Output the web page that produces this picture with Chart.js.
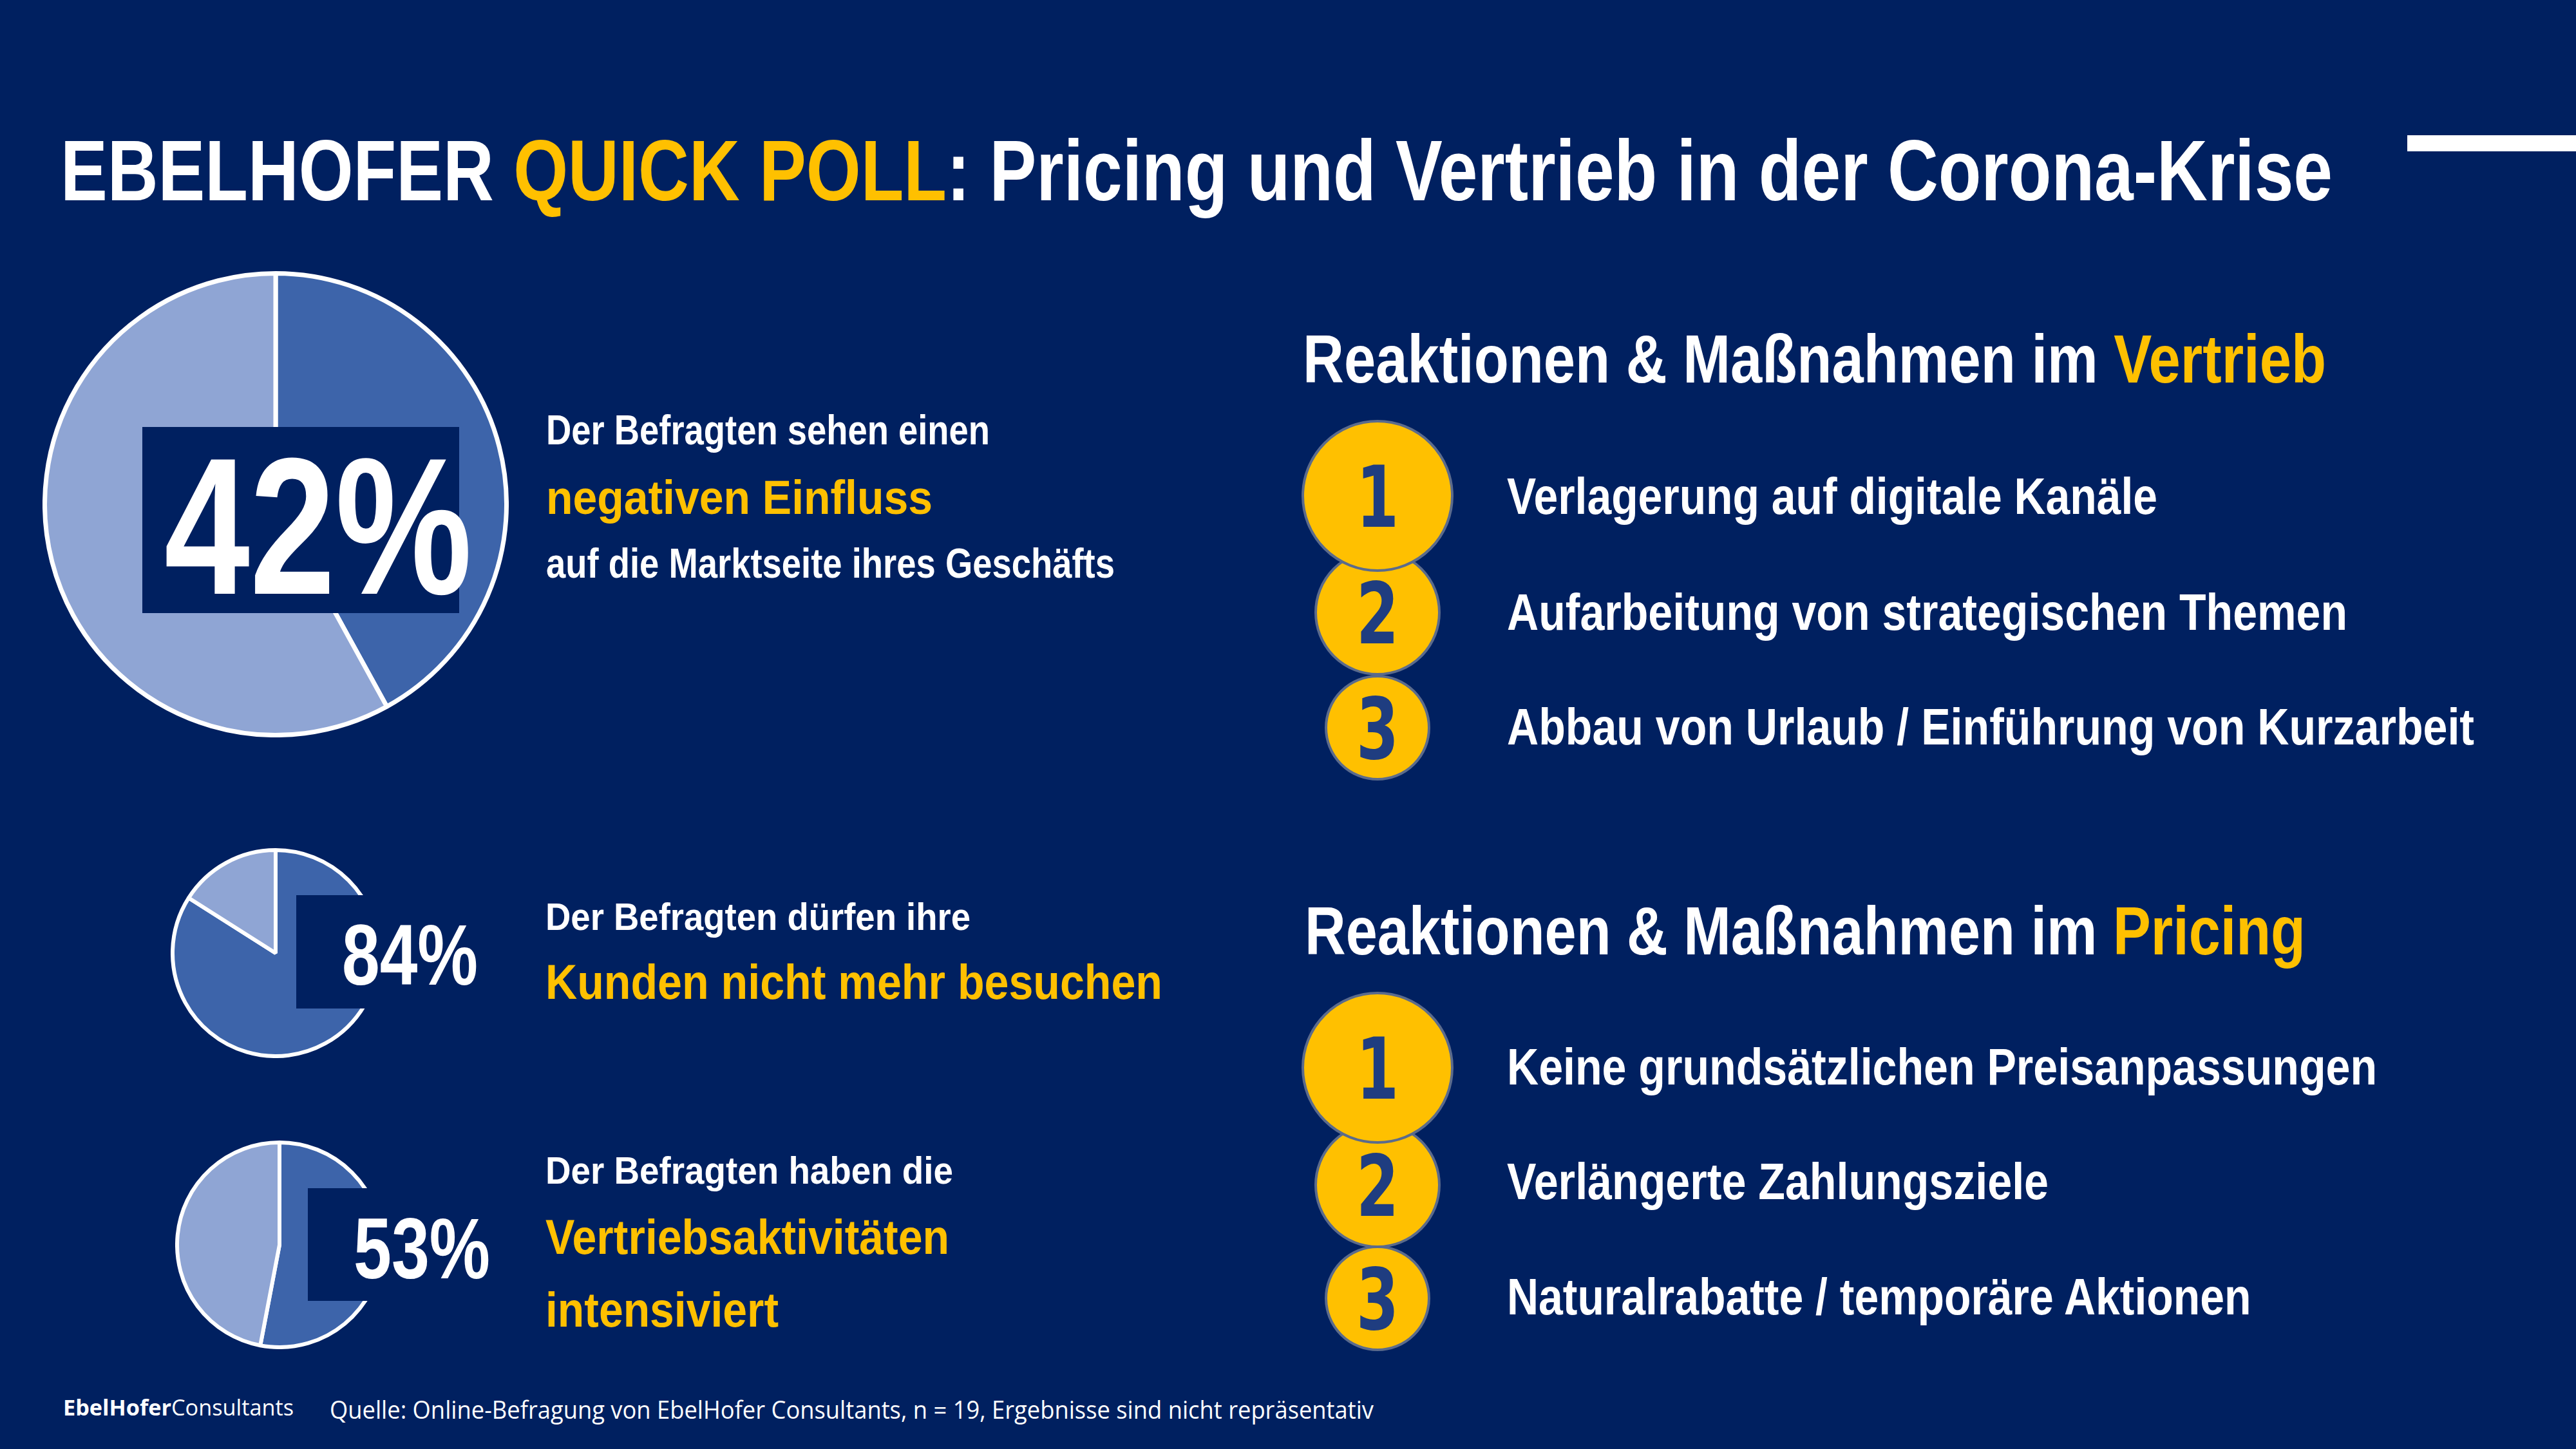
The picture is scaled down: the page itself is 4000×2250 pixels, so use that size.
<!DOCTYPE html>
<html>
<head>
<meta charset="utf-8">
<script src="https://cdn.jsdelivr.net/npm/chart.js@4.4.1/dist/chart.umd.min.js"></script>
<style>
html, body { margin: 0; padding: 0; background: #002060; }
#slide { position: relative; width: 4000px; height: 2250px; overflow: hidden; background: #002060; }
#slide canvas { position: absolute; z-index: 1; }
.t { position: absolute; white-space: nowrap; transform-origin: 0 0; z-index: 3; }
.box { position: absolute; background: #002060; z-index: 2; }
.circ { position: absolute; border-radius: 50%; background: #ffc000; border: 4px solid #5b6b8c; box-sizing: border-box; }
</style>
</head>
<body>
<div id="slide"></div>
<script>
// poll results (share of respondents, %)
var pieLabels = ['Ja', 'Nein']
var negativerEinfluss = [42, 58]
var keineBesuche = [84, 16]
var mehrVertrieb = [53, 47]

var vertriebRanks = ['Verlagerung auf digitale Kanäle', 'Aufarbeitung von strategischen Themen', 'Abbau von Urlaub / Einführung von Kurzarbeit']
var pricingRanks = ['Keine grundsätzlichen Preisanpassungen', 'Verlängerte Zahlungsziele', 'Naturalrabatte / temporäre Aktionen']

var YEL = '#ffc000'
var WHITE = '#ffffff'
var DARK = '#3d64aa'
var LIGHT = '#8fa5d4'
var NARROW = "'Liberation Sans Narrow', 'Liberation Sans', Arial, sans-serif"
var WIDE = "'Liberation Sans', Arial, sans-serif"

var slide = document.getElementById('slide')
var mctx = document.createElement('canvas').getContext('2d')

// parts: [text, color, weight]; places text on a baseline and stretches it to a width
function put(parts, x, base, size, family, width, z) {
	var total = 0, asc = 0, desc = 0
	parts.forEach(function (p) {
		mctx.font = (p[2] || 'bold') + ' ' + size + 'px ' + family
		var m = mctx.measureText(p[0])
		total += m.width
		asc = Math.max(asc, m.fontBoundingBoxAscent)
		desc = Math.max(desc, m.fontBoundingBoxDescent)
	})
	var top = base - ((size - asc - desc) / 2 + asc)
	var d = document.createElement('div')
	d.className = 't'
	d.style.left = x + 'px'
	d.style.top = top + 'px'
	d.style.fontFamily = family
	d.style.fontSize = size + 'px'
	d.style.lineHeight = size + 'px'
	parts.forEach(function (p) {
		var s = document.createElement('span')
		s.textContent = p[0]
		s.style.color = p[1] || WHITE
		s.style.fontWeight = p[2] || 'bold'
		d.appendChild(s)
	})
	if (width) d.style.transform = 'scaleX(' + (width / total) + ')'
	if (z) d.style.zIndex = z
	slide.appendChild(d)
}

function block(cls, x, y, w, h, z) {
	var d = document.createElement('div')
	d.className = cls
	d.style.left = x + 'px'
	d.style.top = y + 'px'
	d.style.width = w + 'px'
	d.style.height = h + 'px'
	if (z) d.style.zIndex = z
	slide.appendChild(d)
	return d
}

function makePie(values, cx, cy, r, bw) {
	var c = document.createElement('canvas')
	var size = 2 * r
	c.width = size
	c.height = size
	c.style.left = (cx - r) + 'px'
	c.style.top = (cy - r) + 'px'
	c.style.width = size + 'px'
	c.style.height = size + 'px'
	slide.appendChild(c)
	return new Chart(c.getContext('2d'), {
		type: 'pie',
		data: {
			labels: pieLabels,
			datasets: [{ data: values, backgroundColor: [DARK, LIGHT], borderColor: WHITE, borderWidth: bw }]
		},
		options: {
			responsive: false,
			animation: false,
			devicePixelRatio: 1,
			layout: { padding: 0 },
			plugins: { legend: { display: false }, tooltip: { enabled: false } }
		}
	})
}

// title + corner bar
put([['EBELHOFER ', WHITE], ['QUICK POLL', YEL], [': Pricing und Vertrieb in der Corona-Krise', WHITE]], 94, 311, 134, WIDE, 3528)
var bar = block('box', 3738, 210, 262, 25)
bar.style.background = WHITE

// pies
makePie(negativerEinfluss, 428, 783, 362, 7)
makePie(keineBesuche, 428, 1480, 163, 6)
makePie(mehrVertrieb, 434, 1933, 162, 6)

block('box', 221, 663, 492, 289)
block('box', 460, 1390, 300, 176)
block('box', 478, 1845, 300, 175)

put([[negativerEinfluss[0] + '%']], 255, 922, 303, NARROW, 478)
put([[keineBesuche[0] + '%']], 531, 1529, 133, NARROW, 211)
put([[mehrVertrieb[0] + '%']], 549, 1985, 133, NARROW, 212)

put([['Der Befragten sehen einen']], 848, 690, 65, NARROW, 689)
put([['negativen Einfluss', YEL]], 848, 798, 74, WIDE, 600)
put([['auf die Marktseite ihres Geschäfts']], 848, 897, 65, NARROW, 883)

put([['Der Befragten dürfen ihre']], 847, 1444, 59, NARROW, 660)
put([['Kunden nicht mehr besuchen', YEL]], 847, 1551, 76, NARROW, 958)

put([['Der Befragten haben die']], 847, 1838, 59, NARROW, 633)
put([['Vertriebsaktivitäten', YEL]], 847, 1947, 76, NARROW, 627)
put([['intensiviert', YEL]], 847, 2060, 76, NARROW, 362)

// ranked measures
put([['Reaktionen & Maßnahmen im '], ['Vertrieb', YEL]], 2023, 594, 106, NARROW, 1589)
put([['Reaktionen & Maßnahmen im '], ['Pricing', YEL]], 2026, 1482, 106, NARROW, 1554)

var radii = [118, 98, 82]
var vertriebY = [770, 951, 1130]
var pricingY = [1658, 1840, 2016]
var vertriebW = [1010, 1305, 1502]
var pricingW = [1351, 841, 1158]

function ranks(items, ys, widths, bases) {
	items.forEach(function (txt, i) {
		var r = radii[i]
		block('circ', 2139 - r, ys[i] - r, 2 * r, 2 * r, 13 - i)
		put([[String(i + 1), '#1f3d80']], 2139 - 33, ys[i] + 48, 132, "'DejaVu Sans', sans-serif", 66, 20)
		put([[txt]], 2340, bases[i], 80, NARROW, widths[i])
	})
}
ranks(vertriebRanks, vertriebY, vertriebW, [798, 978, 1156])
ranks(pricingRanks, pricingY, pricingW, [1684, 1862, 2041])

// footer
put([['EbelHofer', WHITE, 'bold'], ['Consultants', WHITE, 'normal']], 98, 2198, 34, "'Open Sans', sans-serif", 358)
put([['Quelle: Online-Befragung von EbelHofer Consultants, n = 19, Ergebnisse sind nicht repräsentativ', WHITE, 'normal']], 512, 2203, 39, "'Open Sans', sans-serif", 1621)
</script>
</body>
</html>
